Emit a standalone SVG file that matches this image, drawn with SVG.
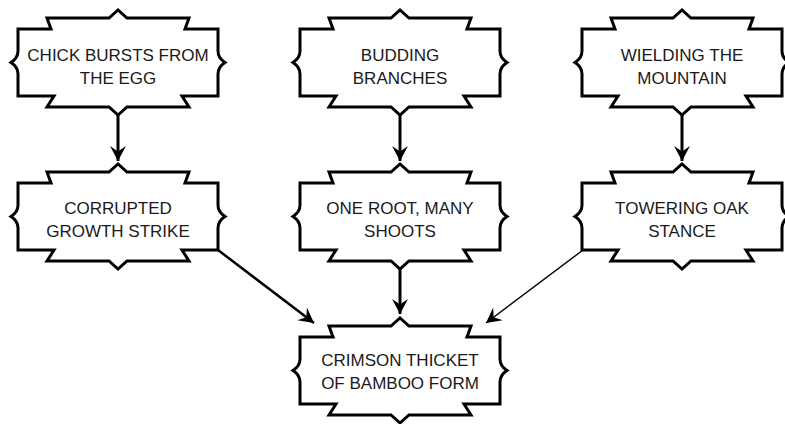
<svg xmlns="http://www.w3.org/2000/svg" width="785" height="424" viewBox="0 0 785 424">
<style>
.box{fill:#ffffff;stroke:#000000;stroke-width:3;stroke-linejoin:miter}
.lbl{font-family:"Liberation Sans",Arial,sans-serif;font-size:17px;fill:#1a1a1a;text-anchor:middle}
.edge{stroke:#000000;fill:none}
</style>
<defs>
<marker id="arr" markerUnits="userSpaceOnUse" markerWidth="17" markerHeight="17" refX="15" refY="8.5" orient="auto">
<path d="M0,0.5 L15,8.5 L0,16.5 L5.5,8.5 Z" fill="#000000"/>
</marker>
<path id="shape" d="M -100,0 L -67,0 L -71,-11 L -9,-11 L 0,-19 L 9,-11 L 71,-11 L 67,0 L 100,0 L 100,22 Q 100,29 107,33.5 Q 100,38 100,45 L 100,67 L 64,67 L 71,78 L 9,78 L 0,86 L -9,78 L -71,78 L -64,67 L -100,67 L -100,45 Q -100,38 -107,33.5 Q -100,29 -100,22 Z"/>
</defs>
<g id="connectors">
<line class="edge" x1="118" y1="115" x2="118" y2="161" stroke-width="3" marker-end="url(#arr)"/>
<line class="edge" x1="400" y1="115" x2="400" y2="161" stroke-width="3" marker-end="url(#arr)"/>
<line class="edge" x1="682" y1="115" x2="682" y2="161" stroke-width="3" marker-end="url(#arr)"/>
<line class="edge" x1="400" y1="269" x2="400" y2="314" stroke-width="3" marker-end="url(#arr)"/>
<line class="edge" x1="218" y1="250" x2="314" y2="323" stroke-width="2.5" marker-end="url(#arr)"/>
<line class="edge" x1="583" y1="250" x2="486" y2="323" stroke-width="1.4" marker-end="url(#arr)"/>
</g>
<g id="n1" transform="translate(118,29)">
<use href="#shape" class="box"/>
<text class="lbl" x="0" y="32">CHICK BURSTS FROM</text>
<text class="lbl" x="0" y="55">THE EGG</text>
</g>
<g id="n2" transform="translate(400,29)">
<use href="#shape" class="box"/>
<text class="lbl" x="0" y="32">BUDDING</text>
<text class="lbl" x="0" y="55">BRANCHES</text>
</g>
<g id="n3" transform="translate(682,29)">
<use href="#shape" class="box"/>
<text class="lbl" x="0" y="32">WIELDING THE</text>
<text class="lbl" x="0" y="55">MOUNTAIN</text>
</g>
<g id="n4" transform="translate(118,183)">
<use href="#shape" class="box"/>
<text class="lbl" x="0" y="31">CORRUPTED</text>
<text class="lbl" x="0" y="54">GROWTH STRIKE</text>
</g>
<g id="n5" transform="translate(400,183)">
<use href="#shape" class="box"/>
<text class="lbl" x="0" y="31">ONE ROOT, MANY</text>
<text class="lbl" x="0" y="54">SHOOTS</text>
</g>
<g id="n6" transform="translate(682,183)">
<use href="#shape" class="box"/>
<text class="lbl" x="0" y="31">TOWERING OAK</text>
<text class="lbl" x="0" y="54">STANCE</text>
</g>
<g id="n7" transform="translate(400,337)">
<use href="#shape" class="box"/>
<text class="lbl" x="0" y="29">CRIMSON THICKET</text>
<text class="lbl" x="0" y="52">OF BAMBOO FORM</text>
</g>
</svg>
